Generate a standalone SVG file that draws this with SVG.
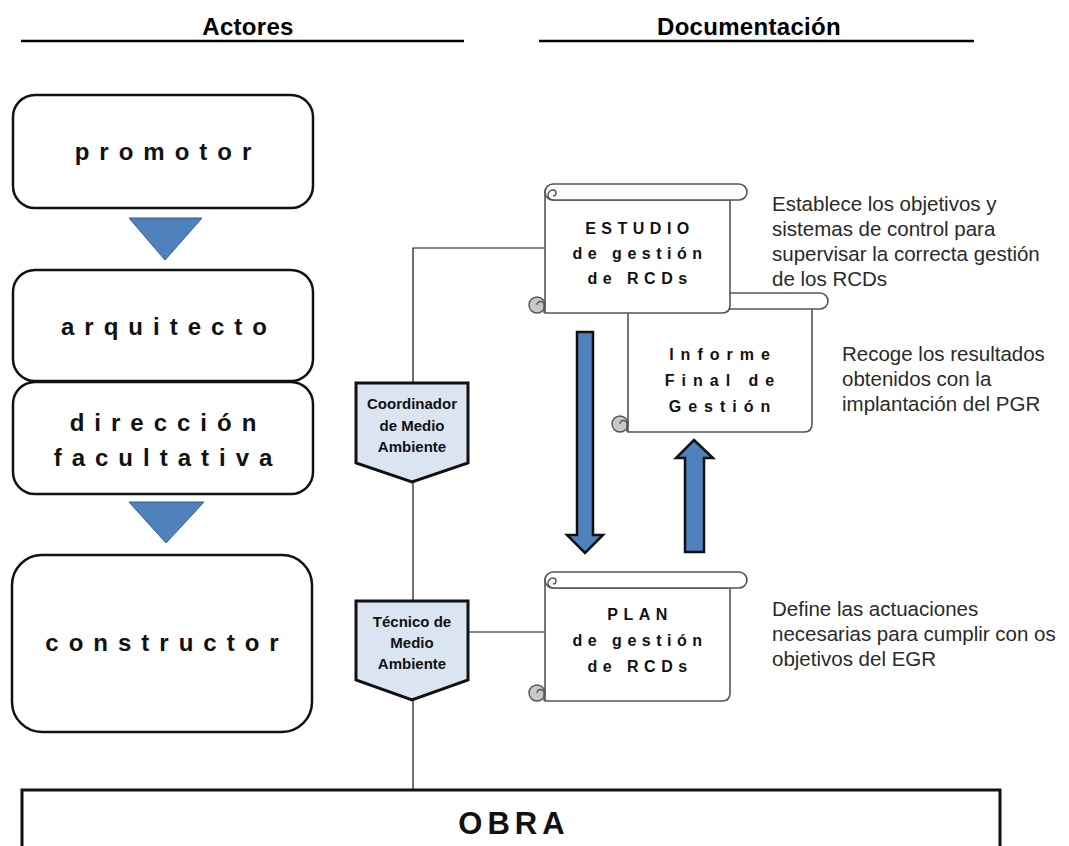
<svg xmlns="http://www.w3.org/2000/svg" width="1069" height="846" viewBox="0 0 1069 846">
<style>
.hdr{font-family:"Liberation Sans",Arial,sans-serif;font-weight:bold;font-size:24px;letter-spacing:0.3px;fill:#000;text-anchor:middle}
.hline{stroke:#000;stroke-width:2.5}
.actor{fill:#fff;stroke:#111;stroke-width:2.5}
.atxt{font-family:"Liberation Sans",Arial,sans-serif;font-weight:bold;font-size:24px;letter-spacing:10px;fill:#111;text-anchor:middle}
.tri{fill:#4f81bd;stroke:#385d8a;stroke-width:1}
.role{fill:#dbe5f1;stroke:#111;stroke-width:3;stroke-linejoin:miter}
.rtxt{font-family:"Liberation Sans",Arial,sans-serif;font-weight:bold;font-size:15px;fill:#111;text-anchor:middle}
.body{fill:#fff;stroke:#555;stroke-width:1.6}
.curl{fill:#c8c8c8;stroke:#555;stroke-width:1.4}
.curlw{fill:none;stroke:#555;stroke-width:1.4}
.stxt{font-family:"Liberation Sans",Arial,sans-serif;font-weight:bold;font-size:16px;letter-spacing:5.5px;fill:#111;text-anchor:middle}
.itxt{font-family:"Liberation Sans",Arial,sans-serif;font-weight:bold;font-size:16px;letter-spacing:7px;fill:#111;text-anchor:middle}
.desc{font-family:"Liberation Sans",Arial,sans-serif;font-size:20.5px;fill:#2a2a2a}
.conn{fill:none;stroke:#111;stroke-width:1.2}
.barrow{fill:#4f81bd;stroke:#111;stroke-width:2.5;stroke-linejoin:miter}
.obra{fill:#fff;stroke:#111;stroke-width:3}
.otxt{font-family:"Liberation Sans",Arial,sans-serif;font-weight:bold;font-size:31px;letter-spacing:5px;fill:#111;text-anchor:middle}
</style>

<g id="headers">
<text class="hdr" x="248" y="35">Actores</text>
<line class="hline" x1="21" y1="41" x2="464" y2="41"/>
<text class="hdr" x="749" y="35">Documentación</text>
<line class="hline" x1="539" y1="41" x2="974" y2="41"/>
</g>

<g id="connectors">
<polyline class="conn" points="545,248 413,248 413,383"/>
<line class="conn" x1="413" y1="482" x2="413" y2="601"/>
<line class="conn" x1="413" y1="700" x2="413" y2="790"/>
<line class="conn" x1="468" y1="632" x2="545" y2="632"/>
<polygon class="tri" points="129,218 202,218 165,260"/>
<polygon class="tri" points="129,502 204,502 166,543"/>
<path class="barrow" d="M577,332 L593,332 L593,535 L603,535 L585,553 L567,535 L577,535 Z"/>
<path class="barrow" d="M694,440 L713,458 L704,458 L704,552 L685,552 L685,458 L676,458 Z"/>
</g>

<g id="promotor">
<rect class="actor" x="13" y="95" width="300" height="113" rx="22"/>
<text class="atxt" x="168" y="160">promotor</text>
</g>
<g id="arquitecto">
<rect class="actor" x="13" y="270" width="300" height="111" rx="22"/>
<text class="atxt" x="169" y="335">arquitecto</text>
</g>
<g id="direccion">
<rect class="actor" x="13" y="382" width="300" height="112" rx="22"/>
<text class="atxt" x="168" y="431">dirección</text>
<text class="atxt" x="168" y="466">facultativa</text>
</g>
<g id="constructor">
<rect class="actor" x="12" y="555" width="300" height="177" rx="30"/>
<text class="atxt" x="167" y="651">constructor</text>
</g>

<g id="coordinador">
<path class="role" d="M356,383 L468,383 L468,463 L412,482 L356,463 Z"/>
<text class="rtxt" x="412" y="409">Coordinador</text>
<text class="rtxt" x="412" y="431">de Medio</text>
<text class="rtxt" x="412" y="452">Ambiente</text>
</g>
<g id="tecnico">
<path class="role" d="M356,601 L468,601 L468,680 L412,700 L356,680 Z"/>
<text class="rtxt" x="412" y="627">Técnico de</text>
<text class="rtxt" x="412" y="648">Medio</text>
<text class="rtxt" x="412" y="669">Ambiente</text>
</g>

<g id="informe">
<path class="body" d="M628,301 L628,432 L804,432 Q812,432 812,424 L812,309"/>
<path class="body" d="M636,293 L820,293 A8,8 0 0 1 820,309 L636,309 A8,8 0 0 1 636,293 Z"/>
<path class="curlw" d="M636,309 A5,5 0 0 1 636,299 A3,3 0 0 1 636,305"/>
<circle class="curl" cx="620" cy="424" r="8"/>
<path class="curlw" d="M620,424 A3.5,3.5 0 0 1 627,424 L627,432"/>
<text class="itxt" x="723" y="360">Informe</text>
<text class="itxt" x="723" y="386">Final de</text>
<text class="itxt" x="723" y="412">Gestión</text>
</g>

<g id="estudio">
<path class="body" d="M545,192 L545,313 L722,313 Q730,313 730,305 L730,200 L553,200 Z"/>
<path class="body" d="M553,184 L739,184 A8,8 0 0 1 739,200 L553,200 A8,8 0 0 1 553,184 Z"/>
<path class="curlw" d="M553,200 A5,5 0 0 1 553,190 A3,3 0 0 1 553,196"/>
<circle class="curl" cx="537" cy="305" r="8"/>
<path class="curlw" d="M537,305 A3.5,3.5 0 0 1 544,305 L544,313"/>
<text class="stxt" x="640" y="234">ESTUDIO</text>
<text class="stxt" x="640" y="259">de gestión</text>
<text class="stxt" x="640" y="284">de RCDs</text>
</g>

<g id="plan">
<path class="body" d="M545,580 L545,701 L722,701 Q730,701 730,693 L730,588 L553,588 Z"/>
<path class="body" d="M553,572 L739,572 A8,8 0 0 1 739,588 L553,588 A8,8 0 0 1 553,572 Z"/>
<path class="curlw" d="M553,588 A5,5 0 0 1 553,578 A3,3 0 0 1 553,584"/>
<circle class="curl" cx="537" cy="693" r="8"/>
<path class="curlw" d="M537,693 A3.5,3.5 0 0 1 544,693 L544,701"/>
<text class="stxt" x="640" y="620">PLAN</text>
<text class="stxt" x="640" y="646">de gestión</text>
<text class="stxt" x="640" y="672">de RCDs</text>
</g>

<g id="desc-estudio">
<text class="desc" x="772" y="211">Establece los objetivos y</text>
<text class="desc" x="772" y="236">sistemas de control para</text>
<text class="desc" x="772" y="261">supervisar la correcta gestión</text>
<text class="desc" x="772" y="286">de los RCDs</text>
</g>
<g id="desc-informe">
<text class="desc" x="842" y="361">Recoge los resultados</text>
<text class="desc" x="842" y="386">obtenidos con la</text>
<text class="desc" x="842" y="411">implantación del PGR</text>
</g>
<g id="desc-plan">
<text class="desc" x="772" y="616">Define las actuaciones</text>
<text class="desc" x="772" y="641">necesarias para cumplir con os</text>
<text class="desc" x="772" y="666">objetivos del EGR</text>
</g>

<g id="obra">
<rect class="obra" x="22" y="790" width="978" height="80"/>
<text class="otxt" x="514" y="834">OBRA</text>
</g>
</svg>
